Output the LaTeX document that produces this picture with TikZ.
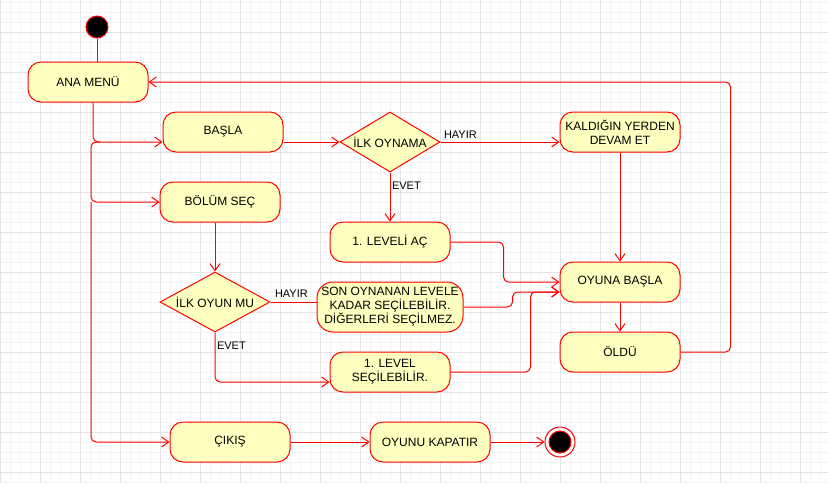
\documentclass[tikz,border=0pt]{standalone}
\usepackage{fontspec}
\setmainfont{Liberation Sans}
\usetikzlibrary{arrows.meta,shapes.geometric}

\definecolor{umlred}{HTML}{FF0000}
\definecolor{umlfill}{HTML}{FFFFC0}
\definecolor{gridmajor}{HTML}{E4E4E4}
\definecolor{gridminor}{HTML}{F4F4F4}

\begin{document}
\begin{tikzpicture}[
  x=1pt, y=-1pt,
  font=\fontsize{12}{14}\selectfont,
  act/.style={draw=umlred, fill=umlfill, line width=1pt, rounded corners=13pt,
    align=center, minimum width=120pt, minimum height=40pt, inner sep=2pt},
  dec/.style={draw=umlred, fill=umlfill, line width=1pt, diamond, aspect=1.8,
    inner sep=0pt, minimum height=60pt},
  startdot/.style={circle, draw=umlred, fill=black, line width=1pt, minimum size=22pt, inner sep=0pt},
  endring/.style={circle, draw=umlred, fill=white, line width=1pt, minimum size=30pt, inner sep=0pt},
  lab/.style={font=\fontsize{11}{13}\selectfont, inner sep=3pt},
  flow/.style={draw=umlred, line width=1pt, rounded corners=5pt},
  arr/.style={flow, -{Straight Barb[length=7pt,width=10pt]}}
]
% ---------- Canvas and grid ----------
\fill[white] (0,0) rectangle (828,483);
\useasboundingbox (0,0) rectangle (828,483);
\foreach \gx in {0,10,...,820} \draw[gridminor, line width=0.6pt] (\gx,0) -- (\gx,483);
\foreach \gy in {2,12,...,482} \draw[gridminor, line width=0.6pt] (0,\gy) -- (828,\gy);
\foreach \gx in {0,40,...,800} \draw[gridmajor, line width=0.8pt] (\gx,0) -- (\gx,483);
\foreach \gy in {32,72,...,472} \draw[gridmajor, line width=0.8pt] (0,\gy) -- (828,\gy);

% ---------- Menu ----------
\node[startdot] (start) at (97,27) {};
\node[act] (menu) at (88,82) {ANA MENÜ};
\node[act] (basla) at (223,132) {BAŞLA};
\node[act] (bolum) at (220,202) {BÖLÜM SEÇ};
\node[act] (cikis) at (230,442) {ÇIKIŞ};
\node[act] (kapat) at (430,442) {OYUNU KAPATIR};
\node[endring] (stop) at (560,442) {};
\node[startdot] (stopdot) at (stop) {};

% ---------- Start branch ----------
\node[dec, minimum width=100pt] (ilkoyna) at (390,142) {İLK OYNAMA};
\node[act] (devam) at (620,132) {KALDIĞIN YERDEN\\DEVAM ET};
\node[act] (level1) at (390,242) {1. LEVELİ AÇ};
\node[act] (oyuna) at (620,282) {OYUNA BAŞLA};
\node[act] (oldu) at (620,352) {ÖLDÜ};

% ---------- Level select branch ----------
\node[dec, minimum width=110pt] (ilkoyun) at (215,302) {İLK OYUN MU};
\node[act, minimum width=146pt, minimum height=50pt, rounded corners=16pt, inner sep=0pt] (son) at (390,307)
  {SON OYNANAN LEVELE\\KADAR SEÇİLEBİLİR.\\DİĞERLERİ SEÇİLMEZ.};
\node[act] (secil) at (390,372) {1. LEVEL\\SEÇİLEBİLİR.};

% ---------- Menu connectors ----------
\draw[flow] (start) -- (start |- menu.north);
\draw[arr] ([xshift=5pt]menu.south) |- ([yshift=-10pt]basla.west);
\coordinate (split) at (100,142);
\coordinate (bus) at (91,442);
\draw[arr] (split) -- (split -| bus) |- (bolum.west);
\draw[arr] (bolum.west -| bus) |- (cikis.west);
\draw[arr] (cikis.east) -- (kapat.west);
\draw[arr] (kapat.east) -- (stop.west);

% ---------- Start branch connectors ----------
\draw[arr] ([yshift=-10pt]basla.east) -- (ilkoyna.west);
\draw[arr] (ilkoyna.east) -- node[lab, above right, pos=0]{HAYIR} ([yshift=-10pt]devam.west);
\draw[arr] (ilkoyna.south) -- node[lab, right, pos=0.27, inner sep=1.5pt]{EVET} (level1.north);
\draw[arr] (devam.south) -- (oyuna.north);
\draw[arr] (level1.east) -- ++(53,0) |- (oyuna.west);
\draw[arr] (oyuna.south) -- (oldu.north);
\draw[arr] (oldu.east) -- ++(50,0) |- (menu.east);

% ---------- Level select connectors ----------
\draw[arr] (ilkoyun.north |- bolum.south) -- (ilkoyun.north);
\draw[flow] (ilkoyun.east) -- node[lab, above right, pos=0, inner sep=4pt]{HAYIR} (ilkoyun.east -| son.west);
\draw[arr] (ilkoyun.south) |- node[lab, right, pos=0.135, inner sep=1.5pt]{EVET} ([yshift=-10pt]secil.west);
\draw[arr] (son.east) -- ++(49,0) |- ([yshift=-10pt]oyuna.west);
\draw[arr] (secil.east) -- ++(80,0) |- ([yshift=-10pt]oyuna.west);
\end{tikzpicture}
\end{document}
